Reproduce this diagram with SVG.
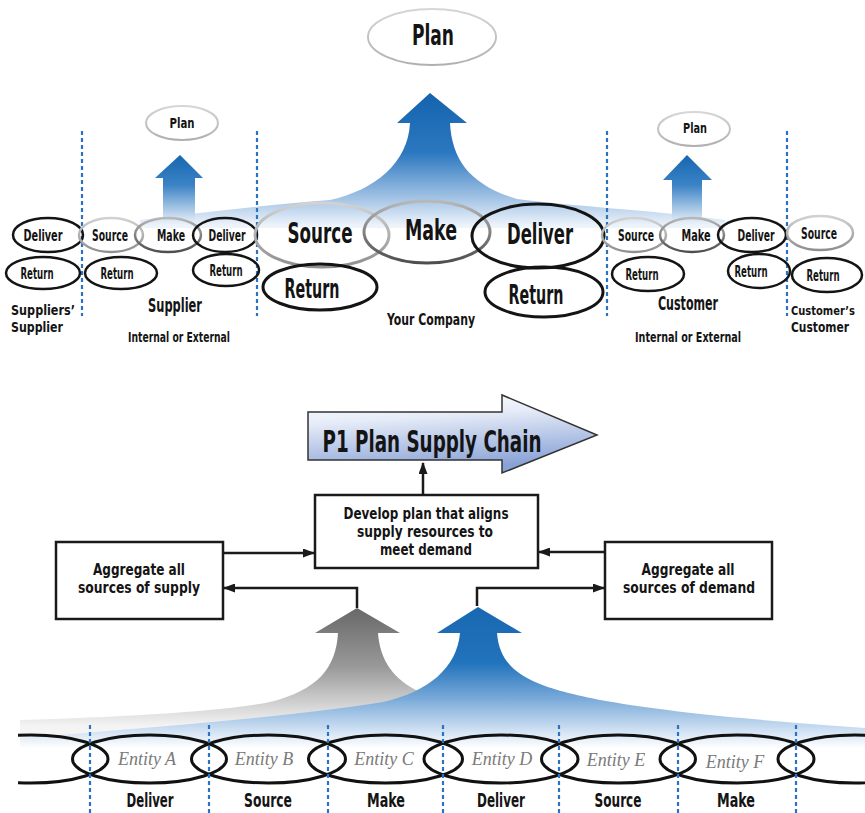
<svg xmlns="http://www.w3.org/2000/svg" width="865" height="813" viewBox="0 0 865 813">
<style>
.lb{font-family:"Liberation Sans Narrow","DejaVu Sans Condensed","Liberation Sans",sans-serif;font-weight:bold;fill:#141414;text-anchor:middle}
.ll{font-family:"Liberation Sans Narrow","DejaVu Sans Condensed","Liberation Sans",sans-serif;font-weight:bold;fill:#141414;text-anchor:start}
.en{font-family:"Liberation Serif","DejaVu Serif",serif;font-style:italic;fill:#7a7a7a;font-size:18px;text-anchor:middle}
.dash{stroke:#2a72c2;stroke-width:2.2;stroke-dasharray:4 3;fill:none}
.ek{fill:none;stroke:#141414;stroke-width:2.5}
.ekb{fill:none;stroke:#141414;stroke-width:3}
.els{fill:none;stroke:url(#strokeLight);stroke-width:2.5}
.elm{fill:none;stroke:url(#strokeMid);stroke-width:2.5}
.elsb{fill:none;stroke:url(#strokeLight);stroke-width:3}
.elmb{fill:none;stroke:url(#strokeMid);stroke-width:3}
.plan{fill:#fff;stroke:url(#strokePlan);stroke-width:2}
.box{fill:#fff;stroke:#1a1a1a;stroke-width:2.5}
.con{fill:none;stroke:#1a1a1a;stroke-width:2.5}
.chain{fill:none;stroke:#111;stroke-width:3}
</style>
<defs>
<linearGradient id="strokeLight" x1="0" y1="0" x2="0" y2="1"><stop offset="0" stop-color="#d2d2d2"/><stop offset="1" stop-color="#8f8f8f"/></linearGradient>
<linearGradient id="strokeMid" x1="0" y1="0" x2="0" y2="1"><stop offset="0" stop-color="#b8b8b8"/><stop offset="1" stop-color="#4e4e4e"/></linearGradient>
<linearGradient id="strokePlan" x1="0" y1="0" x2="0" y2="1"><stop offset="0" stop-color="#d6d6d6"/><stop offset="1" stop-color="#b0b0b0"/></linearGradient>
<linearGradient id="blueTop" gradientUnits="userSpaceOnUse" x1="0" y1="93" x2="0" y2="226"><stop offset="0" stop-color="#1463ae"/><stop offset="0.45" stop-color="#2c78c0"/><stop offset="0.8" stop-color="#a6c5e6"/><stop offset="1" stop-color="#eef4fb"/></linearGradient>
<linearGradient id="blueSmall" x1="0" y1="0" x2="0" y2="1"><stop offset="0" stop-color="#1766b1"/><stop offset="0.45" stop-color="#3b83c5"/><stop offset="1" stop-color="#e3edf8"/></linearGradient>
<linearGradient id="blueBot" gradientUnits="userSpaceOnUse" x1="0" y1="606" x2="0" y2="748"><stop offset="0" stop-color="#1867b2"/><stop offset="0.4" stop-color="#2173bb"/><stop offset="0.65" stop-color="#79a9d9"/><stop offset="0.87" stop-color="#cddff2"/><stop offset="1" stop-color="#ffffff"/></linearGradient>
<linearGradient id="grayBot" gradientUnits="userSpaceOnUse" x1="0" y1="608" x2="0" y2="726"><stop offset="0" stop-color="#686868"/><stop offset="0.5" stop-color="#999"/><stop offset="1" stop-color="#f4f4f4"/></linearGradient>
<linearGradient id="p1grad" x1="0" y1="0" x2="0.25" y2="1"><stop offset="0" stop-color="#ffffff"/><stop offset="0.35" stop-color="#e6ecf8"/><stop offset="1" stop-color="#8aa3d6"/></linearGradient>
<marker id="ah" viewBox="0 0 12 9" refX="11" refY="4.5" markerWidth="12" markerHeight="9" markerUnits="userSpaceOnUse" orient="auto"><path d="M0,0 L12,4.5 L0,9 Z" fill="#1a1a1a"/></marker>
<clipPath id="chainClip"><rect x="18" y="700" width="847" height="113"/></clipPath>
</defs>

<!-- ===== TOP SECTION ===== -->
<g id="top-arrows">
<path d="M430,93 L467,123 L450,123 C452,160 470,185 517,199 C 570,206 650,210 725,220 L725,228 L140,228 L140,220 C 200,213 265,205 330,200 C 375,190 408,163 410,123 L397,123 Z" fill="url(#blueTop)"/>
<path d="M180,155 L203,178 L195,178 L195,222 L163,222 L163,178 L155,178 Z" fill="url(#blueSmall)"/>
<path d="M687,155 L712,180 L702,180 L702,222 L672,222 L672,180 L663,180 Z" fill="url(#blueSmall)"/>
</g>

<g id="top-dividers">
<line class="dash" x1="82" y1="131" x2="82" y2="316"/>
<line class="dash" x1="257" y1="131" x2="257" y2="316"/>
<line class="dash" x1="607" y1="131" x2="607" y2="316"/>
<line class="dash" x1="787" y1="131" x2="787" y2="316"/>
</g>

<g id="plan-main"><ellipse class="plan" cx="432" cy="37" rx="64" ry="28"/><text class="lb" x="433" y="45" font-size="28" textLength="42" lengthAdjust="spacingAndGlyphs">Plan</text></g>
<g id="plan-supplier"><ellipse class="plan" cx="182" cy="123" rx="36" ry="17"/><text class="lb" x="182" y="128" font-size="14" textLength="25" lengthAdjust="spacingAndGlyphs">Plan</text></g>
<g id="plan-customer"><ellipse class="plan" cx="694" cy="129" rx="36" ry="17"/><text class="lb" x="695" y="133" font-size="14" textLength="24" lengthAdjust="spacingAndGlyphs">Plan</text></g>

<!-- Suppliers' supplier -->
<g id="ss-deliver"><ellipse class="ek" cx="48" cy="235" rx="35" ry="17"/><text class="lb" x="43" y="241" font-size="15" textLength="39" lengthAdjust="spacingAndGlyphs">Deliver</text></g>
<g id="ss-return"><ellipse class="ek" cx="43" cy="273" rx="37" ry="16"/><text class="lb" x="37" y="279" font-size="15" textLength="33" lengthAdjust="spacingAndGlyphs">Return</text></g>
<g id="ss-label"><text class="ll" x="11" y="315" font-size="14" textLength="64" lengthAdjust="spacingAndGlyphs">Suppliers’</text><text class="ll" x="11" y="332" font-size="14" textLength="52" lengthAdjust="spacingAndGlyphs">Supplier</text></g>

<!-- Supplier -->
<g id="sup-source"><ellipse class="els" cx="111" cy="235" rx="32" ry="17"/><text class="lb" x="110" y="241" font-size="15" textLength="36" lengthAdjust="spacingAndGlyphs">Source</text></g>
<g id="sup-make"><ellipse class="elm" cx="168" cy="235" rx="33" ry="17"/><text class="lb" x="171" y="241" font-size="15" textLength="28" lengthAdjust="spacingAndGlyphs">Make</text></g>
<g id="sup-deliver"><ellipse class="ek" cx="225" cy="235" rx="32" ry="17"/><text class="lb" x="227" y="241" font-size="15" textLength="37" lengthAdjust="spacingAndGlyphs">Deliver</text></g>
<g id="sup-return1"><ellipse class="ek" cx="121" cy="273" rx="36" ry="16"/><text class="lb" x="117" y="279" font-size="15" textLength="33" lengthAdjust="spacingAndGlyphs">Return</text></g>
<g id="sup-return2"><ellipse class="ek" cx="226" cy="270" rx="33" ry="16"/><text class="lb" x="226" y="276" font-size="15" textLength="33" lengthAdjust="spacingAndGlyphs">Return</text></g>
<g id="sup-label"><text class="lb" x="175" y="312" font-size="19" textLength="54" lengthAdjust="spacingAndGlyphs">Supplier</text><text class="lb" x="179" y="342" font-size="14" textLength="102" lengthAdjust="spacingAndGlyphs">Internal or External</text></g>

<!-- Your company -->
<g id="co-source"><ellipse class="elsb" cx="322" cy="235" rx="67" ry="32"/><text class="lb" x="320" y="243" font-size="29" textLength="65" lengthAdjust="spacingAndGlyphs">Source</text></g>
<g id="co-make"><ellipse class="elmb" cx="427" cy="232" rx="63" ry="31"/><text class="lb" x="431" y="240" font-size="29" textLength="52" lengthAdjust="spacingAndGlyphs">Make</text></g>
<g id="co-deliver"><ellipse class="ekb" cx="538" cy="236" rx="66" ry="32"/><text class="lb" x="540" y="244" font-size="29" textLength="66" lengthAdjust="spacingAndGlyphs">Deliver</text></g>
<g id="co-return1"><ellipse class="ekb" cx="320" cy="287" rx="57" ry="23"/><text class="lb" x="312" y="298" font-size="26" textLength="55" lengthAdjust="spacingAndGlyphs">Return</text></g>
<g id="co-return2"><ellipse class="ekb" cx="544" cy="292" rx="59" ry="25"/><text class="lb" x="536" y="304" font-size="26" textLength="55" lengthAdjust="spacingAndGlyphs">Return</text></g>
<g id="co-label"><text class="lb" x="431" y="325" font-size="15" textLength="88" lengthAdjust="spacingAndGlyphs">Your Company</text></g>

<!-- Customer -->
<g id="cu-source"><ellipse class="els" cx="634" cy="235" rx="32" ry="17"/><text class="lb" x="636" y="241" font-size="15" textLength="36" lengthAdjust="spacingAndGlyphs">Source</text></g>
<g id="cu-make"><ellipse class="elm" cx="692" cy="235" rx="32" ry="17"/><text class="lb" x="696" y="241" font-size="15" textLength="29" lengthAdjust="spacingAndGlyphs">Make</text></g>
<g id="cu-deliver"><ellipse class="ek" cx="752" cy="235" rx="34" ry="17"/><text class="lb" x="756" y="241" font-size="15" textLength="37" lengthAdjust="spacingAndGlyphs">Deliver</text></g>
<g id="cu-return1"><ellipse class="ek" cx="648" cy="274" rx="36" ry="17"/><text class="lb" x="642" y="280" font-size="15" textLength="33" lengthAdjust="spacingAndGlyphs">Return</text></g>
<g id="cu-return2"><ellipse class="ek" cx="759" cy="271" rx="31" ry="17"/><text class="lb" x="751" y="277" font-size="15" textLength="33" lengthAdjust="spacingAndGlyphs">Return</text></g>
<g id="cu-label"><text class="lb" x="688" y="310" font-size="19" textLength="60" lengthAdjust="spacingAndGlyphs">Customer</text><text class="lb" x="688" y="342" font-size="14" textLength="106" lengthAdjust="spacingAndGlyphs">Internal or External</text></g>

<!-- Customer's customer -->
<g id="cc-source"><ellipse class="els" cx="820" cy="233" rx="33" ry="17"/><text class="lb" x="819" y="239" font-size="15" textLength="36" lengthAdjust="spacingAndGlyphs">Source</text></g>
<g id="cc-return"><ellipse class="ek" cx="827" cy="275" rx="35" ry="17"/><text class="lb" x="823" y="281" font-size="15" textLength="33" lengthAdjust="spacingAndGlyphs">Return</text></g>
<g id="cc-label"><text class="ll" x="791" y="315" font-size="13" textLength="64" lengthAdjust="spacingAndGlyphs">Customer’s</text><text class="ll" x="791" y="332" font-size="14" textLength="58" lengthAdjust="spacingAndGlyphs">Customer</text></g>

<!-- ===== BOTTOM SECTION ===== -->
<g id="bottom-arrows">
<path d="M357,608 L400,633 L378,633 C380,660 393,680 422,693 L422,746 L20,746 L20,720 C 120,717 220,712 270,702 C 318,690 336,668 338,633 L315,633 Z" fill="url(#grayBot)"/>
<path d="M478,607 L522,633 L497,633 C499,658 512,674 545,686 C 590,702 680,715 865,728 L865,748 L20,748 L20,738 C 180,726 310,714 383,702 C 428,692 457,668 460,633 L437,633 Z" fill="url(#blueBot)"/>
</g>

<g id="p1-plan-supply-chain">
<path d="M308,412 L502,412 L502,395 L597,435 L502,473 L502,460 L308,460 Z" fill="url(#p1grad)" stroke="#333" stroke-width="1.5"/>
<text class="lb" x="432" y="452" font-size="31" textLength="219" lengthAdjust="spacingAndGlyphs">P1 Plan Supply Chain</text>
</g>

<g id="develop-plan">
<rect class="box" x="315" y="495" width="223" height="73"/>
<text class="lb" x="426" y="519" font-size="15" textLength="165" lengthAdjust="spacingAndGlyphs">Develop plan that aligns</text>
<text class="lb" x="425" y="537" font-size="15" textLength="136" lengthAdjust="spacingAndGlyphs">supply resources to</text>
<text class="lb" x="426" y="555" font-size="15" textLength="92" lengthAdjust="spacingAndGlyphs">meet demand</text>
</g>

<g id="aggregate-supply">
<rect class="box" x="56" y="542" width="167" height="77"/>
<text class="lb" x="139" y="575" font-size="16" textLength="92" lengthAdjust="spacingAndGlyphs">Aggregate all</text>
<text class="lb" x="139" y="593" font-size="16" textLength="122" lengthAdjust="spacingAndGlyphs">sources of supply</text>
</g>

<g id="aggregate-demand">
<rect class="box" x="605" y="542" width="167" height="77"/>
<text class="lb" x="688" y="575" font-size="16" textLength="93" lengthAdjust="spacingAndGlyphs">Aggregate all</text>
<text class="lb" x="689" y="593" font-size="16" textLength="132" lengthAdjust="spacingAndGlyphs">sources of demand</text>
</g>

<g id="connectors">
<line class="con" x1="423" y1="495" x2="423" y2="463" marker-end="url(#ah)"/>
<line class="con" x1="223" y1="553" x2="314" y2="553" marker-end="url(#ah)"/>
<polyline class="con" points="357,608 357,588 224,588" marker-end="url(#ah)"/>
<line class="con" x1="605" y1="552" x2="539" y2="552" marker-end="url(#ah)"/>
<polyline class="con" points="477,606 477,588 604,588" marker-end="url(#ah)"/>
</g>

<g id="chain" clip-path="url(#chainClip)">
<ellipse class="chain" cx="31" cy="759" rx="77" ry="24"/>
<ellipse class="chain" cx="149.5" cy="759" rx="77" ry="24"/>
<ellipse class="chain" cx="268.5" cy="759" rx="77" ry="24"/>
<ellipse class="chain" cx="385.5" cy="759" rx="77" ry="24"/>
<ellipse class="chain" cx="501" cy="759" rx="77" ry="24"/>
<ellipse class="chain" cx="618.5" cy="759" rx="77" ry="24"/>
<ellipse class="chain" cx="737" cy="759" rx="77" ry="24"/>
<ellipse class="chain" cx="855" cy="759" rx="77" ry="24"/>
</g>

<g id="bottom-dividers">
<line class="dash" x1="90" y1="725" x2="90" y2="813"/>
<line class="dash" x1="209" y1="725" x2="209" y2="813"/>
<line class="dash" x1="328" y1="725" x2="328" y2="813"/>
<line class="dash" x1="443" y1="725" x2="443" y2="813"/>
<line class="dash" x1="559" y1="725" x2="559" y2="813"/>
<line class="dash" x1="678" y1="725" x2="678" y2="813"/>
<line class="dash" x1="796" y1="725" x2="796" y2="813"/>
</g>

<g id="entity-a"><text class="en" x="147" y="765">Entity A</text><text class="lb" x="150" y="807" font-size="19" textLength="47" lengthAdjust="spacingAndGlyphs">Deliver</text></g>
<g id="entity-b"><text class="en" x="264" y="765">Entity B</text><text class="lb" x="268" y="807" font-size="19" textLength="48" lengthAdjust="spacingAndGlyphs">Source</text></g>
<g id="entity-c"><text class="en" x="384" y="765">Entity C</text><text class="lb" x="386" y="807" font-size="19" textLength="38" lengthAdjust="spacingAndGlyphs">Make</text></g>
<g id="entity-d"><text class="en" x="502" y="765">Entity D</text><text class="lb" x="501" y="807" font-size="19" textLength="48" lengthAdjust="spacingAndGlyphs">Deliver</text></g>
<g id="entity-e"><text class="en" x="616" y="766">Entity E</text><text class="lb" x="618" y="807" font-size="19" textLength="47" lengthAdjust="spacingAndGlyphs">Source</text></g>
<g id="entity-f"><text class="en" x="735" y="768">Entity F</text><text class="lb" x="736" y="807" font-size="19" textLength="38" lengthAdjust="spacingAndGlyphs">Make</text></g>
</svg>
